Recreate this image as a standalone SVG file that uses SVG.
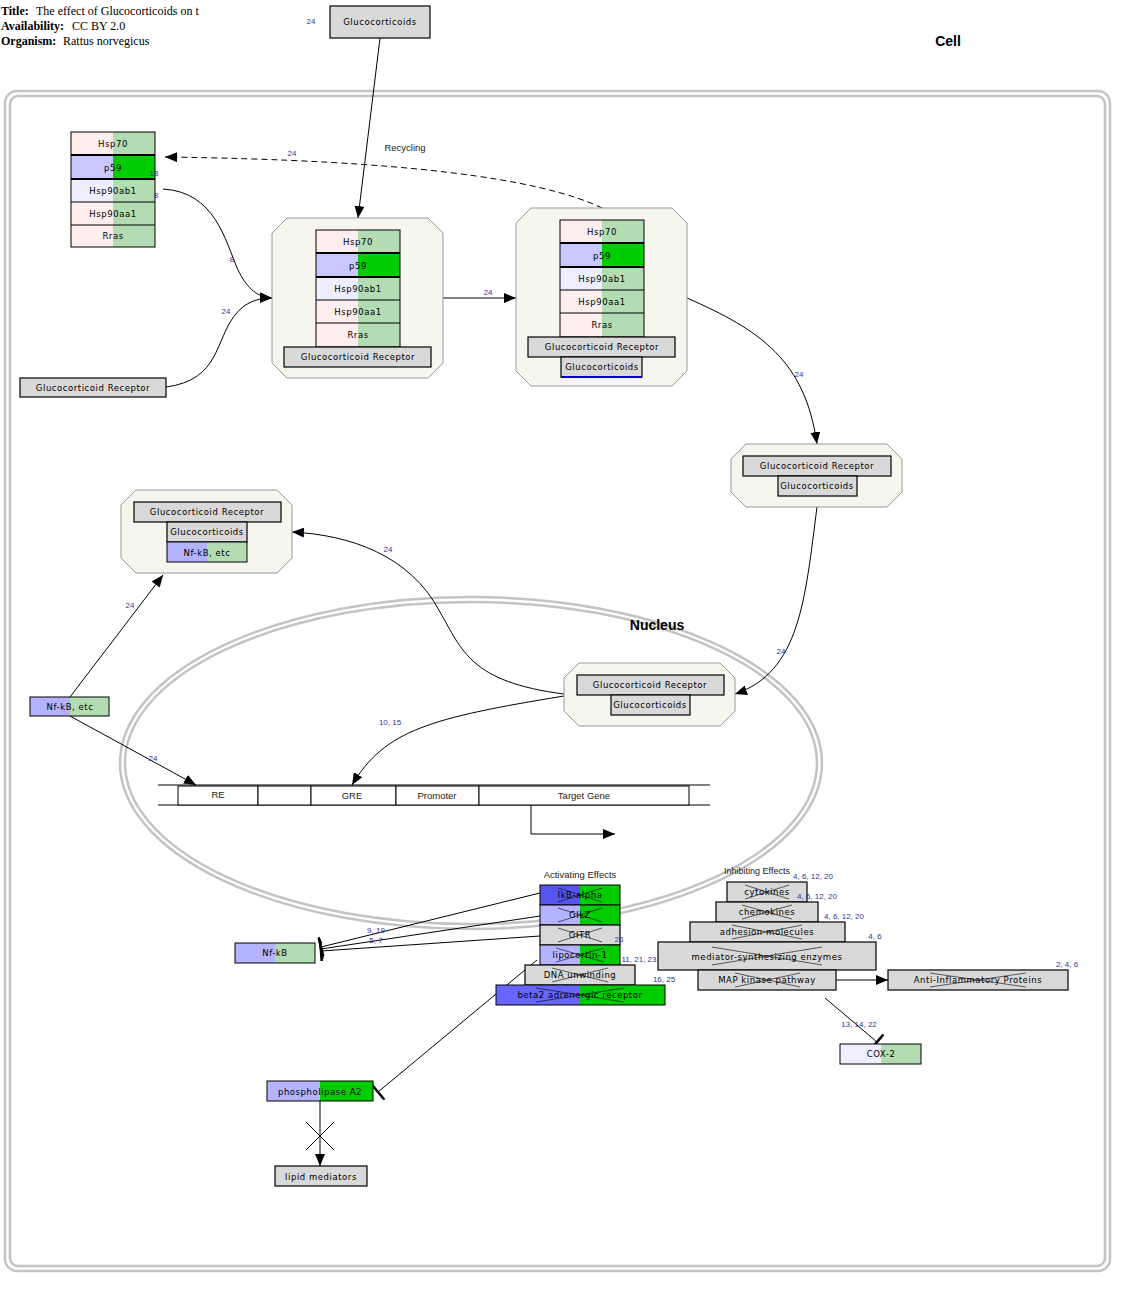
<svg xmlns="http://www.w3.org/2000/svg" width="1137" height="1298" viewBox="0 0 1137 1298">
<style>
  .t { font-family: "Liberation Serif", serif; font-size: 12px; fill: #000; }
  .tb { font-weight: bold; }
  .n { font-family: "DejaVu Sans", sans-serif; font-size: 8.5px; fill: #000; text-anchor: middle; letter-spacing: 0.55px; }
  .lbl { font-family: "Liberation Sans", sans-serif; font-size: 9.5px; fill: #222; text-anchor: middle; }
  .num { font-family: "Liberation Sans", sans-serif; font-size: 8px; fill: #33339a; text-anchor: middle; }
  .big { font-family: "Liberation Sans", sans-serif; font-size: 14px; font-weight: bold; fill: #000; text-anchor: middle; }
  .gray { fill: #d9d9d9; stroke: #000; stroke-width: 1.2; }
  .out { fill: none; stroke: #000; stroke-width: 1; }
  .cx { fill: #f6f6ef; stroke: #999; stroke-width: 1; }
  .wall { fill: none; stroke: #c4c4c4; stroke-width: 2.5; }
  .pink { fill: #ffeeee; }
  .lgreen { fill: #b3dcb3; }
  .lav { fill: #c8c8ff; }
  .pale { fill: #eeeeff; }
  .green { fill: #00cc00; }
  .blue { fill: #5555ee; }
  .edge { fill: none; stroke: #000; stroke-width: 1; }
  .xo { fill: none; stroke: #000; stroke-width: 0.6; }
</style>
<defs>
  <marker id="arr" viewBox="0 0 12 10" refX="12" refY="5" markerWidth="12" markerHeight="10" markerUnits="userSpaceOnUse" orient="auto">
    <path d="M0,0 L12,5 L0,10 z" fill="#000"/>
  </marker>
  <marker id="tbar" viewBox="0 0 4 20" refX="2" refY="10" markerWidth="4" markerHeight="20" markerUnits="userSpaceOnUse" orient="auto">
    <path d="M2,0 L2,20" stroke="#000" stroke-width="2.5"/>
  </marker>
</defs>

<!-- header -->
<g id="header">
  <text class="t tb" x="1" y="15">Title:</text>
  <text class="t" x="36" y="15">The effect of Glucocorticoids on t</text>
  <text class="t tb" x="1" y="30">Availability:</text>
  <text class="t" x="72" y="30">CC BY 2.0</text>
  <text class="t tb" x="1" y="45">Organism:</text>
  <text class="t" x="63" y="45">Rattus norvegicus</text>
</g>

<!-- compartments -->
<g id="cell">
  <rect class="wall" x="5" y="91" width="1105" height="1180" rx="12"/>
  <rect class="wall" x="10" y="96" width="1095" height="1170" rx="8"/>
  <text class="big" x="948" y="46">Cell</text>
</g>
<g id="nucleus">
  <ellipse class="wall" cx="471" cy="763" rx="351" ry="166"/>
  <ellipse class="wall" cx="471" cy="763" rx="346" ry="161"/>
  <text class="big" x="657" y="630">Nucleus</text>
</g>

<!-- connectors -->
<g id="connectors">
  <path class="edge" d="M602,208 C540,178 400,160 165,157" stroke-dasharray="6,4" marker-end="url(#arr)"/>
  <path class="edge" d="M163,189 C215,192 225,240 238,270 C248,290 258,297 272,298" marker-end="url(#arr)"/>
  <path class="edge" d="M166,387 C220,380 215,340 235,315 C245,302 258,298 272,298" marker-end="url(#arr)"/>
  <path class="edge" d="M380,38 L358,218" marker-end="url(#arr)"/>
  <path class="edge" d="M443,298 L516,298" marker-end="url(#arr)"/>
  <path class="edge" d="M687,298 C760,330 805,360 817,444" marker-end="url(#arr)"/>
  <path class="edge" d="M817,507 C805,600 800,672 735,694" marker-end="url(#arr)"/>
  <path class="edge" d="M564,694 C470,682 462,650 440,612 C410,555 350,535 292,532" marker-end="url(#arr)"/>
  <path class="edge" d="M564,696 C430,718 385,730 352,785" marker-end="url(#arr)"/>
  <path class="edge" d="M70,697 L163,575" marker-end="url(#arr)"/>
  <path class="edge" d="M70,716 L196,785" marker-end="url(#arr)"/>
  <path class="edge" d="M531,805 L531,834 L615,834" marker-end="url(#arr)"/>
  <path class="edge" d="M540,893 L321,947" marker-end="url(#tbar)"/>
  <path class="edge" d="M540,916 L321,949" marker-end="url(#tbar)"/>
  <path class="edge" d="M540,936 L321,951" marker-end="url(#tbar)"/>
  <path class="edge" d="M537,960 L378,1092" marker-end="url(#tbar)"/>
  <path class="edge" d="M320,1101 L320,1166" marker-end="url(#arr)"/>
  <path class="edge" d="M306,1122 L334,1150 M334,1122 L306,1150"/>
  <path class="edge" d="M836,980 L888,980" marker-end="url(#arr)"/>
  <path class="edge" d="M825,998 L877,1042" marker-end="url(#tbar)"/>
</g>

<!-- Glucocorticoids (free ligand) -->
<g id="gc-top">
  <rect class="gray" x="330" y="6" width="100" height="32"/>
  <text class="n" x="380" y="25">Glucocorticoids</text>
</g>

<!-- chaperone stack, unbound -->
<g id="stack-free">
  <rect class="pink" x="71" y="132" width="42" height="23"/><rect class="lgreen" x="113" y="132" width="42" height="23"/>
  <rect class="lav" x="71" y="155" width="42" height="24"/><rect class="green" x="113" y="155" width="42" height="24"/>
  <rect class="pale" x="71" y="179" width="42" height="23"/><rect class="lgreen" x="113" y="179" width="42" height="23"/>
  <rect class="pink" x="71" y="202" width="42" height="23"/><rect class="lgreen" x="113" y="202" width="42" height="23"/>
  <rect class="pink" x="71" y="225" width="42" height="22"/><rect class="lgreen" x="113" y="225" width="42" height="22"/>
  <rect class="out" x="71" y="132" width="84" height="115"/>
  <path d="M71,155 H155 M71,179 H155" stroke="#000" stroke-width="2"/>
  <path d="M71,202 H155 M71,225 H155" stroke="#000" stroke-width="1"/>
  <text class="n" x="113" y="147">Hsp70</text>
  <text class="n" x="113" y="171">p59</text>
  <text class="n" x="113" y="194">Hsp90ab1</text>
  <text class="n" x="113" y="217">Hsp90aa1</text>
  <text class="n" x="113" y="239">Rras</text>
</g>

<g id="gr-free">
  <rect class="gray" x="20" y="378" width="146" height="19"/>
  <text class="n" x="93" y="391">Glucocorticoid Receptor</text>
</g>

<!-- GR bound to chaperones -->
<g id="complex-gr-hsp">
  <path class="cx" d="M287,218 H428 L443,233 V363 L428,378 H287 L272,363 V233 Z"/>
  <rect class="pink" x="316" y="230" width="42" height="23"/><rect class="lgreen" x="358" y="230" width="42" height="23"/>
  <rect class="lav" x="316" y="253" width="42" height="24"/><rect class="green" x="358" y="253" width="42" height="24"/>
  <rect class="pale" x="316" y="277" width="42" height="23"/><rect class="lgreen" x="358" y="277" width="42" height="23"/>
  <rect class="pink" x="316" y="300" width="42" height="23"/><rect class="lgreen" x="358" y="300" width="42" height="23"/>
  <rect class="pink" x="316" y="323" width="42" height="24"/><rect class="lgreen" x="358" y="323" width="42" height="24"/>
  <rect class="out" x="316" y="230" width="84" height="117"/>
  <path d="M316,253 H400 M316,277 H400" stroke="#000" stroke-width="2"/>
  <path d="M316,300 H400 M316,323 H400" stroke="#000" stroke-width="1"/>
  <text class="n" x="358" y="245">Hsp70</text>
  <text class="n" x="358" y="269">p59</text>
  <text class="n" x="358" y="292">Hsp90ab1</text>
  <text class="n" x="358" y="315">Hsp90aa1</text>
  <text class="n" x="358" y="338">Rras</text>
  <rect class="gray" x="284" y="347" width="147" height="20"/>
  <text class="n" x="358" y="360">Glucocorticoid Receptor</text>
</g>

<!-- GR + chaperones + ligand -->
<g id="complex-gr-hsp-gc">
  <path class="cx" d="M531,208 H672 L687,223 V371 L672,386 H531 L516,371 V223 Z"/>
  <rect class="pink" x="560" y="220" width="42" height="23"/><rect class="lgreen" x="602" y="220" width="42" height="23"/>
  <rect class="lav" x="560" y="243" width="42" height="24"/><rect class="green" x="602" y="243" width="42" height="24"/>
  <rect class="pale" x="560" y="267" width="42" height="23"/><rect class="lgreen" x="602" y="267" width="42" height="23"/>
  <rect class="pink" x="560" y="290" width="42" height="23"/><rect class="lgreen" x="602" y="290" width="42" height="23"/>
  <rect class="pink" x="560" y="313" width="42" height="24"/><rect class="lgreen" x="602" y="313" width="42" height="24"/>
  <rect class="out" x="560" y="220" width="84" height="117"/>
  <path d="M560,243 H644 M560,267 H644" stroke="#000" stroke-width="2"/>
  <path d="M560,290 H644 M560,313 H644" stroke="#000" stroke-width="1"/>
  <text class="n" x="602" y="235">Hsp70</text>
  <text class="n" x="602" y="259">p59</text>
  <text class="n" x="602" y="282">Hsp90ab1</text>
  <text class="n" x="602" y="305">Hsp90aa1</text>
  <text class="n" x="602" y="328">Rras</text>
  <rect class="gray" x="528" y="337" width="147" height="20"/>
  <text class="n" x="602" y="350">Glucocorticoid Receptor</text>
  <rect class="gray" x="561" y="357" width="81" height="20"/>
  <path d="M561,377 H642" stroke="#0000cc" stroke-width="1.8"/>
  <text class="n" x="602" y="370">Glucocorticoids</text>
</g>

<!-- activated GR-ligand, cytoplasm -->
<g id="complex-gr-gc">
  <path class="cx" d="M746,444 H887 L902,459 V492 L887,507 H746 L731,492 V459 Z"/>
  <rect class="gray" x="743" y="456" width="148" height="20"/>
  <text class="n" x="817" y="469">Glucocorticoid Receptor</text>
  <rect class="gray" x="778" y="476" width="79" height="20"/>
  <text class="n" x="817" y="489">Glucocorticoids</text>
</g>

<!-- GR-ligand tethering Nf-kB -->
<g id="complex-gr-nfkb">
  <path class="cx" d="M136,490 H277 L292,505 V558 L277,573 H136 L121,558 V505 Z"/>
  <rect class="gray" x="134" y="502" width="147" height="20"/>
  <text class="n" x="207" y="515">Glucocorticoid Receptor</text>
  <rect class="gray" x="167" y="522" width="80" height="20"/>
  <text class="n" x="207" y="535">Glucocorticoids</text>
  <rect x="167" y="542" width="40" height="20" fill="#b3b3ff"/>
  <rect class="lgreen" x="207" y="542" width="40" height="20"/>
  <rect class="out" x="167" y="542" width="80" height="20"/>
  <text class="n" x="207" y="556">Nf-kB, etc</text>
</g>

<!-- GR-ligand inside nucleus -->
<g id="complex-gr-gc-nuc">
  <path class="cx" d="M579,663 H720 L735,678 V711 L720,726 H579 L564,711 V678 Z"/>
  <rect class="gray" x="577" y="675" width="147" height="20"/>
  <text class="n" x="650" y="688">Glucocorticoid Receptor</text>
  <rect class="gray" x="611" y="695" width="79" height="20"/>
  <text class="n" x="650" y="708">Glucocorticoids</text>
</g>

<g id="nfkb-etc">
  <rect x="30" y="697" width="40" height="19" fill="#b3b3ff"/>
  <rect class="lgreen" x="70" y="697" width="39" height="19"/>
  <rect class="out" x="30" y="697" width="79" height="19"/>
  <text class="n" x="70" y="710">Nf-kB, etc</text>
</g>

<!-- promoter region of target gene -->
<g id="gene">
  <path d="M158,785 H710 M158,805 H710" stroke="#000" stroke-width="1"/>
  <rect x="178" y="786" width="80" height="19" fill="#fff" stroke="#000"/>
  <rect x="258" y="786" width="53" height="19" fill="#fff" stroke="#000"/>
  <rect x="311" y="786" width="85" height="19" fill="#fff" stroke="#000"/>
  <rect x="396" y="786" width="83" height="19" fill="#fff" stroke="#000"/>
  <rect x="479" y="786" width="210" height="19" fill="#fff" stroke="#000"/>
  <text class="lbl" x="218" y="798">RE</text>
  <text class="lbl" x="352" y="799">GRE</text>
  <text class="lbl" x="437" y="799">Promoter</text>
  <text class="lbl" x="584" y="799">Target Gene</text>
</g>

<!-- activating effects -->
<g id="activating">
  <text class="lbl" x="580" y="878">Activating Effects</text>
  <g id="ikb">
    <rect class="blue" x="540" y="885" width="40" height="20"/><rect class="green" x="580" y="885" width="40" height="20"/>
    <rect class="out" x="540" y="885" width="80" height="20"/>
    <text class="n" x="580" y="898">IkB-alpha</text>
    <path class="xo" d="M558,888 L602,902 M558,902 L602,888"/>
  </g>
  <g id="gilz">
    <rect x="540" y="905" width="40" height="20" fill="#b3b3ff"/><rect class="green" x="580" y="905" width="40" height="20"/>
    <rect class="out" x="540" y="905" width="80" height="20"/>
    <text class="n" x="580" y="918">GILZ</text>
    <path class="xo" d="M558,908 L602,922 M558,922 L602,908"/>
  </g>
  <g id="gitr">
    <rect class="gray" x="540" y="925" width="80" height="20"/>
    <text class="n" x="580" y="938">GITR</text>
    <path class="xo" d="M558,928 L602,942 M558,942 L602,928"/>
  </g>
  <g id="lipocortin">
    <rect x="540" y="945" width="40" height="20" fill="#b3b3ff"/><rect class="green" x="580" y="945" width="40" height="20"/>
    <rect class="out" x="540" y="945" width="80" height="20"/>
    <text class="n" x="580" y="958">lipocortin-1</text>
    <path class="xo" d="M556,948 L604,962 M556,962 L604,948"/>
  </g>
  <g id="dna-unwinding">
    <rect class="gray" x="525" y="965" width="110" height="20"/>
    <text class="n" x="580" y="978">DNA unwinding</text>
    <path class="xo" d="M552,968 L608,982 M552,982 L608,968"/>
  </g>
  <g id="beta2">
    <rect x="496" y="985" width="84" height="20" fill="#6666ff"/><rect class="green" x="580" y="985" width="85" height="20"/>
    <rect class="out" x="496" y="985" width="169" height="20"/>
    <text class="n" x="580" y="998">beta2 adrenergic receptor</text>
    <path class="xo" d="M536,988 L624,1002 M536,1002 L624,988"/>
  </g>
</g>

<!-- inhibiting effects -->
<g id="inhibiting">
  <text class="lbl" x="757" y="874" style="font-size:9px">Inhibiting Effects</text>
  <g id="cytokines">
    <rect class="gray" x="727" y="882" width="80" height="20"/>
    <text class="n" x="767" y="895">cytokines</text>
    <path class="xo" d="M745,885 L789,899 M745,899 L789,885"/>
  </g>
  <g id="chemokines">
    <rect class="gray" x="716" y="902" width="102" height="20"/>
    <text class="n" x="767" y="915">chemokines</text>
    <path class="xo" d="M742,905 L792,919 M742,919 L792,905"/>
  </g>
  <g id="adhesion">
    <rect class="gray" x="690" y="922" width="155" height="20"/>
    <text class="n" x="767" y="935">adhesion molecules</text>
    <path class="xo" d="M732,925 L802,939 M732,939 L802,925"/>
  </g>
  <g id="mediator">
    <rect class="gray" x="658" y="942" width="218" height="28"/>
    <text class="n" x="767" y="960">mediator-synthesizing enzymes</text>
    <path class="xo" d="M712,947 L822,965 M712,965 L822,947"/>
  </g>
  <g id="mapk">
    <rect class="gray" x="698" y="970" width="138" height="20"/>
    <text class="n" x="767" y="983">MAP kinase pathway</text>
    <path class="xo" d="M735,973 L800,987 M735,987 L800,973"/>
  </g>
  <g id="anti-inflammatory">
    <rect class="gray" x="888" y="970" width="180" height="20"/>
    <text class="n" x="978" y="983">Anti-Inflammatory Proteins</text>
    <path class="xo" d="M930,973 L1026,987 M930,987 L1026,973"/>
  </g>
</g>

<g id="cox2">
  <rect class="pale" x="840" y="1044" width="41" height="20"/>
  <rect class="lgreen" x="881" y="1044" width="40" height="20"/>
  <rect class="out" x="840" y="1044" width="81" height="20"/>
  <text class="n" x="881" y="1057">COX-2</text>
</g>

<g id="nfkb">
  <rect x="235" y="943" width="40" height="20" fill="#b3b3ff"/>
  <rect class="lgreen" x="275" y="943" width="40" height="20"/>
  <rect class="out" x="235" y="943" width="80" height="20"/>
  <text class="n" x="275" y="956">Nf-kB</text>
</g>

<g id="pla2">
  <rect x="267" y="1081" width="53" height="20" fill="#b3b3ff"/>
  <rect class="green" x="320" y="1081" width="53" height="20"/>
  <rect class="out" x="267" y="1081" width="106" height="20"/>
  <text class="n" x="320" y="1095">phospholipase A2</text>
</g>

<g id="lipid-mediators">
  <rect class="gray" x="275" y="1166" width="92" height="20"/>
  <text class="n" x="321" y="1180">lipid mediators</text>
</g>

<!-- literature reference numbers and edge labels, drawn on top -->
<g id="refs">
  <text class="num" x="311" y="24">24</text>
  <text class="num" x="154" y="176">18</text>
  <text class="num" x="156" y="198">8</text>
  <text class="num" x="292" y="156">24</text>
  <text class="lbl" x="405" y="151">Recycling</text>
  <text class="num" x="232" y="262">8</text>
  <text class="num" x="226" y="314">24</text>
  <text class="num" x="488" y="295">24</text>
  <text class="num" x="799" y="377">24</text>
  <text class="num" x="781" y="654">24</text>
  <text class="num" x="388" y="552">24</text>
  <text class="num" x="390" y="725">10, 15</text>
  <text class="num" x="130" y="608">24</text>
  <text class="num" x="153" y="761">24</text>
  <text class="num" x="376" y="933">9, 19</text>
  <text class="num" x="376" y="943">5, 7</text>
  <text class="num" x="619" y="942">26</text>
  <text class="num" x="639" y="962">11, 21, 23</text>
  <text class="num" x="664" y="982">16, 25</text>
  <text class="num" x="813" y="879">4, 6, 12, 20</text>
  <text class="num" x="817" y="899">4, 6, 12, 20</text>
  <text class="num" x="844" y="919">4, 6, 12, 20</text>
  <text class="num" x="875" y="939">4, 6</text>
  <text class="num" x="1067" y="967">2, 4, 6</text>
  <text class="num" x="859" y="1027">13, 14, 22</text>
</g>
</svg>
